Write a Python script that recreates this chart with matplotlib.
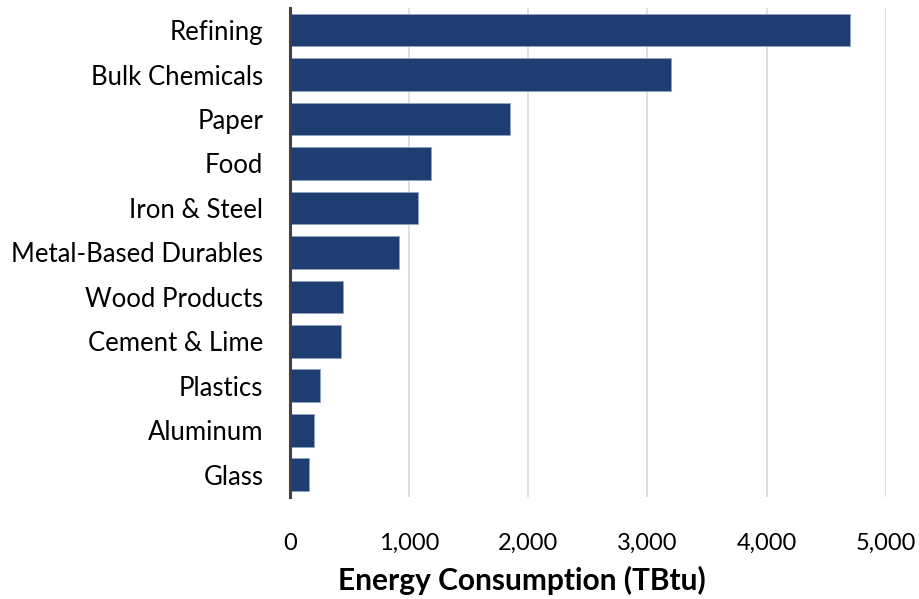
import numpy as np
import matplotlib.pyplot as plt
from matplotlib.ticker import FuncFormatter

plt.rcParams['font.family'] = ['Lato', 'DejaVu Sans']

sectors = ['Refining', 'Bulk Chemicals', 'Paper', 'Food', 'Iron & Steel',
           'Metal-Based Durables', 'Wood Products', 'Cement & Lime',
           'Plastics', 'Aluminum', 'Glass']
consumption = [4700, 3200, 1850, 1185, 1076, 916, 445, 429, 252, 202, 160]

fig = plt.figure(figsize=(9.2, 5.99), dpi=100)
ax = fig.add_axes([0.315, 0.170, 0.648, 0.817])

y = np.arange(len(sectors))
ax.barh(y, consumption, height=0.74, color='#1E3D70', edgecolor='#8FA3C0',
        linewidth=0.6, zorder=3)
ax.set_yticks(y)
ax.set_yticklabels(sectors)
ax.set_ylim(len(sectors) - 0.5, -0.5)
ax.set_xlim(0, 5000)
ax.set_xticks(np.arange(0, 5001, 1000))
ax.xaxis.set_major_formatter(FuncFormatter(lambda v, p: f'{int(v):,}'))

ax.grid(axis='x', color='#D9D9D9', linewidth=1.2, zorder=0)
for s in ['top', 'right', 'bottom']:
    ax.spines[s].set_visible(False)
ax.spines['left'].set_color('#404040')
ax.spines['left'].set_linewidth(2.2)
ax.spines['left'].set_zorder(4)

ax.tick_params(axis='y', length=0, labelsize=18.5, colors='#000000', pad=19)
ax.tick_params(axis='x', length=0, labelsize=17, colors='#000000', pad=26)

# x axis title sits left of the axes centre in the original
fig.text(522 / 920, 1 - 580 / 599, 'Energy Consumption (TBtu)', fontsize=21.5,
         fontweight='bold', ha='center', va='center')

fig.savefig('out.png', dpi=100)
